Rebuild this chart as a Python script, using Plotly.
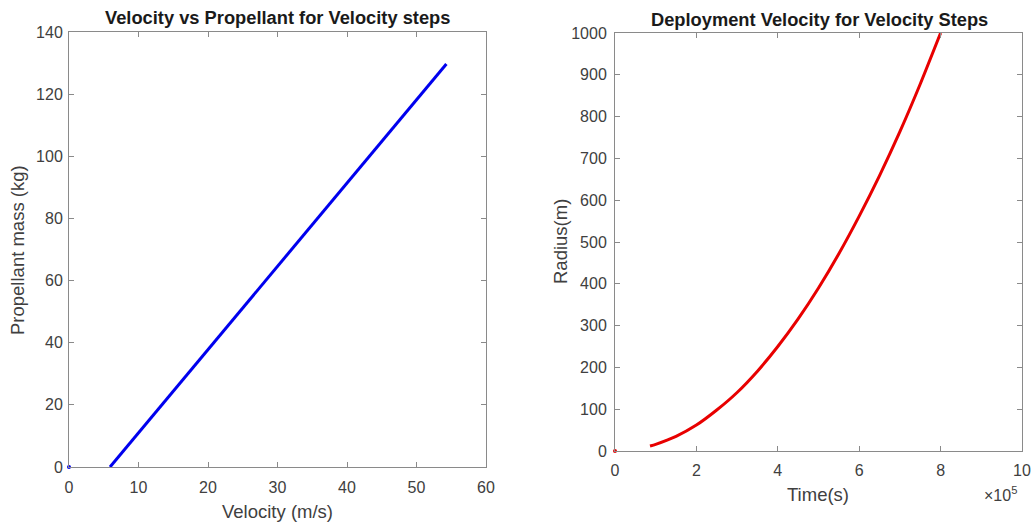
import plotly.graph_objects as go

# Left chart: propellant mass (kg) vs velocity (m/s)
vel = [5.9, 15.0, 25.0, 35.0, 45.0, 54.3]
prop = [0.0, 24.4, 51.2, 78.0, 104.8, 129.7]

# Right chart: radius (m) vs time (units of 1e5 s)
time_e5 = [0.86, 1.0, 1.5, 2.0, 2.5, 3.0, 3.5, 4.0, 4.5, 5.0, 5.5, 6.0, 6.5, 7.0, 7.5, 8.0]
radius = [12, 16, 35, 62, 98, 140, 191, 250, 316, 390, 472, 562, 659, 764, 878, 1000]

left_ticks_x = [0, 10, 20, 30, 40, 50, 60]
left_ticks_y = [0, 20, 40, 60, 80, 100, 120, 140]
right_ticks_x = [0, 2, 4, 6, 8, 10]
right_ticks_y = [0, 100, 200, 300, 400, 500, 600, 700, 800, 900, 1000]

W, H = 1034, 522
FONT = "Liberation Sans, Arial, sans-serif"
AX = "#8a8a8a"
TXT = "#404040"

fig = go.Figure()
fig.add_trace(go.Scatter(x=vel, y=prop, mode="lines", line=dict(color="#0000ee", width=3),
                         xaxis="x", yaxis="y", showlegend=False, cliponaxis=False))
fig.add_trace(go.Scatter(x=[0], y=[0], mode="markers", marker=dict(color="#0000ee", size=4),
                         xaxis="x", yaxis="y", showlegend=False, cliponaxis=False))
fig.add_trace(go.Scatter(x=time_e5, y=radius, mode="lines",
                         line=dict(color="#e80000", width=3, shape="spline", smoothing=0.6),
                         xaxis="x2", yaxis="y2", showlegend=False))
fig.add_trace(go.Scatter(x=[0], y=[0], mode="markers", marker=dict(color="#e80000", size=4),
                         xaxis="x2", yaxis="y2", showlegend=False, cliponaxis=False))

def ax(**kw):
    d = dict(showline=True, linecolor=AX, linewidth=1, mirror="ticks", ticks="inside",
             ticklen=5, tickcolor=AX, showgrid=False, zeroline=False, automargin=False,
             tickfont=dict(family=FONT, size=16, color=TXT))
    d.update(kw)
    return d

def py(p):
    return 1 - p / H

fig.update_layout(
    width=W, height=H,
    margin=dict(l=0, r=0, t=0, b=0),
    paper_bgcolor="white", plot_bgcolor="white",
    xaxis=ax(domain=[69 / W, 486 / W], range=[0, 60], tickvals=left_ticks_x, anchor="y",
             ticklabelstandoff=6),
    yaxis=ax(domain=[py(467), py(32)], range=[0, 140], tickvals=left_ticks_y, anchor="x",
             ticklabelstandoff=2),
    xaxis2=ax(domain=[615 / W, 1022 / W], range=[0, 10], tickvals=right_ticks_x, anchor="y2",
              ticklabelstandoff=5),
    yaxis2=ax(domain=[py(451), py(33)], range=[0, 1000], tickvals=right_ticks_y, anchor="x2",
              ticklabelstandoff=4),
)

def ann(text, x, y, size=18, bold=False, angle=0, color=TXT):
    fig.add_annotation(text=f"<b>{text}</b>" if bold else text, x=x / W, y=py(y),
                       xref="paper", yref="paper", showarrow=False, textangle=angle,
                       xanchor="center", yanchor="middle",
                       font=dict(family=FONT, size=size, color=color))

ann("Velocity vs Propellant for Velocity steps", 277.5, 18, size=18.3, bold=True, color="#1a1a1a")
ann("Deployment Velocity for Velocity Steps", 819, 20, size=18.3, bold=True, color="#1a1a1a")
ann("Velocity (m/s)", 277.5, 511, size=18.5)
ann("Time(s)", 818, 494, size=18.5)
ann("Propellant mass (kg)", 17, 250, size=18.5, angle=-90)
ann("Radius(m)", 560, 242, size=18.5, angle=-90)
ann("×10<sup>5</sup>", 1000, 494, size=16)

fig.write_html("out.html")
